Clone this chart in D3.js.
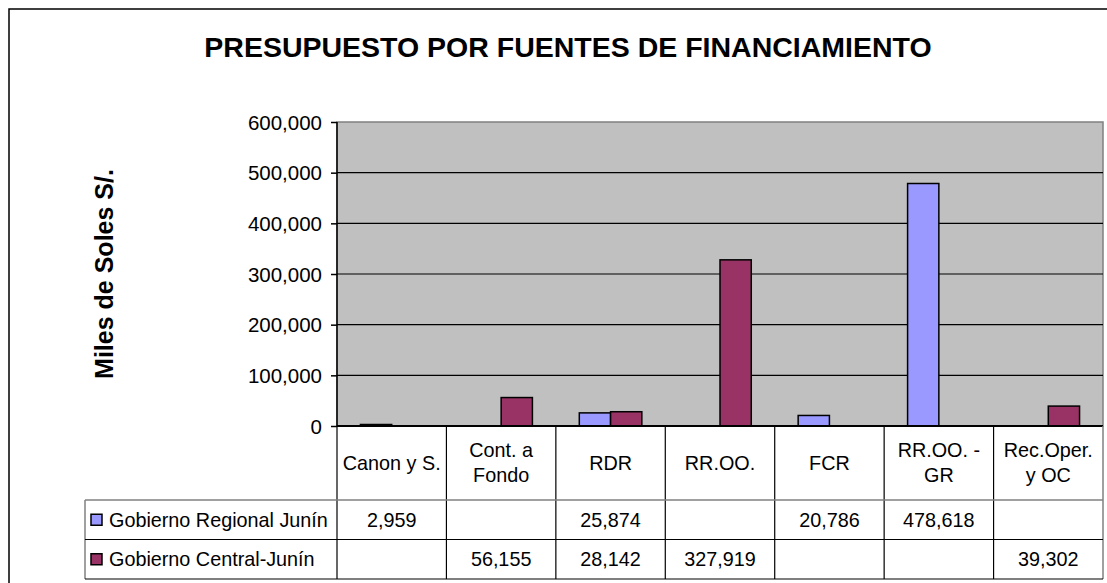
<!DOCTYPE html>
<html>
    <head>
        <title>Presupuesto por fuentes de financiamiento</title>
        <script src="https://d3js.org/d3.v7.min.js"></script>
        <style>
            body { margin: 0; background: #fff; }
            svg text { font-family: "Liberation Sans", Arial, sans-serif; fill: #000; }
            .axis text { font-size: 20.5px; }
            .cell { font-size: 19.8px; }
        </style>
    </head>
    <body>
        <svg width="1107" height="583"></svg>
        <script>
            // data
            var categories = ["Canon y S.", "Cont. a Fondo", "RDR", "RR.OO.", "FCR", "RR.OO. - GR", "Rec.Oper. y OC"];
            var headerLines = [["Canon y S."], ["Cont. a", "Fondo"], ["RDR"], ["RR.OO."], ["FCR"], ["RR.OO. -", "GR"], ["Rec.Oper.", "y OC"]];
            var seriesNames = ["Gobierno Regional Junín", "Gobierno Central-Junín"];
            var regional = [2959, null, 25874, null, 20786, 478618, null];
            var central = [null, 56155, 28142, 327919, null, null, 39302];
            var yTicks = [0, 100000, 200000, 300000, 400000, 500000, 600000];
            var colors = ["#9999ff", "#993366"];

            var svg = d3.select("svg");
            var fmt = d3.format(",");

            var plot = {left: 337, right: 1103, top: 122, bottom: 426};
            var headerBottom = 500, rowH = 39.5, legendLeft = 85;

            // outer chart border
            svg.append("rect")
                .attr("x", 9).attr("y", 9)
                .attr("width", 1200).attr("height", 700)
                .attr("fill", "none").attr("stroke", "#000").attr("stroke-width", 1.5);

            svg.append("text")
                .attr("x", 568).attr("y", 57)
                .attr("text-anchor", "middle")
                .style("font-size", "28.5px").style("font-weight", "bold")
                .text("PRESUPUESTO POR FUENTES DE FINANCIAMIENTO");

            svg.append("text")
                .attr("transform", "translate(113," + ((plot.top + plot.bottom) / 2) + ") rotate(-90)")
                .attr("text-anchor", "middle")
                .style("font-size", "25px").style("font-weight", "bold")
                .text("Miles de Soles S/.");

            var x = d3.scaleBand()
                .domain(categories)
                .range([plot.left, plot.right]);

            var y = d3.scaleLinear()
                .domain([0, 600000])
                .range([plot.bottom, plot.top]);

            svg.append("rect")
                .attr("x", plot.left).attr("y", plot.top)
                .attr("width", plot.right - plot.left).attr("height", plot.bottom - plot.top)
                .attr("fill", "#c0c0c0").attr("stroke", "#808080").attr("stroke-width", 1.5);

            // gridlines
            svg.append("g")
                .selectAll("line")
                .data(yTicks.slice(1, -1))
              .enter().append("line")
                .attr("x1", plot.left).attr("x2", plot.right)
                .attr("y1", d => y(d)).attr("y2", d => y(d))
                .attr("stroke", "#000").attr("stroke-width", 1.2);

            var yAxis = svg.append("g")
                .attr("class", "axis")
                .attr("transform", "translate(" + plot.left + ",0)")
                .call(d3.axisLeft(y).tickValues(yTicks).tickFormat(fmt).tickSize(6).tickPadding(9));
            yAxis.selectAll("line, path").attr("stroke", "#000").attr("stroke-width", 1.5);
            yAxis.select("path").attr("d", "M0," + plot.top + "V" + plot.bottom);
            yAxis.selectAll("text").attr("dy", "0.35em");

            // bars, Excel style gap width 150%
            var bw = x.bandwidth() / 3.5;
            var series = [regional, central];
            series.forEach(function(vals, s) {
                svg.append("g")
                    .selectAll("rect")
                    .data(categories.map((c, i) => ({c: c, v: vals[i]})).filter(d => d.v != null))
                  .enter().append("rect")
                    .attr("x", d => x(d.c) + bw * (0.75 + s))
                    .attr("y", d => y(d.v))
                    .attr("width", bw)
                    .attr("height", d => y(0) - y(d.v))
                    .attr("fill", colors[s])
                    .attr("stroke", "#000").attr("stroke-width", 1.5);
            });

            // zero line
            svg.append("line")
                .attr("x1", plot.left).attr("x2", plot.right)
                .attr("y1", y(0)).attr("y2", y(0))
                .attr("stroke", "#000").attr("stroke-width", 1.8);

            // data table
            var tableBottom = headerBottom + rowH * 2;
            var table = svg.append("g");

            table.selectAll(".vline")
                .data(categories)
              .enter().append("line")
                .attr("x1", d => x(d)).attr("x2", d => x(d))
                .attr("y1", plot.bottom).attr("y2", tableBottom)
                .attr("stroke", "#000").attr("stroke-width", 1.2);

            table.append("line")
                .attr("x1", plot.right).attr("x2", plot.right)
                .attr("y1", plot.bottom).attr("y2", tableBottom)
                .attr("stroke", "#808080").attr("stroke-width", 1.5);
            table.append("line")
                .attr("x1", legendLeft).attr("x2", legendLeft)
                .attr("y1", headerBottom).attr("y2", tableBottom)
                .attr("stroke", "#808080").attr("stroke-width", 1.5);
            table.append("line")
                .attr("x1", legendLeft).attr("x2", plot.right)
                .attr("y1", headerBottom).attr("y2", headerBottom)
                .attr("stroke", "#808080").attr("stroke-width", 1.5);
            [headerBottom + rowH, tableBottom].forEach(function(yy) {
                table.append("line")
                    .attr("x1", legendLeft).attr("x2", plot.right)
                    .attr("y1", yy).attr("y2", yy)
                    .attr("stroke", "#000").attr("stroke-width", 1.2);
            });

            // header labels
            var headerMid = (plot.bottom + headerBottom) / 2;
            headerLines.forEach(function(lines, i) {
                var cx = x(categories[i]) + x.bandwidth() / 2;
                var t = table.append("text")
                    .attr("class", "cell")
                    .attr("text-anchor", "middle")
                    .attr("y", headerMid - (lines.length - 1) * 12.5);
                lines.forEach(function(l, k) {
                    t.append("tspan")
                        .attr("x", cx)
                        .attr("dy", k === 0 ? "0.35em" : "25px")
                        .text(l);
                });
            });

            // legend rows + values
            series.forEach(function(vals, s) {
                var cy = headerBottom + rowH * s + rowH / 2;
                table.append("rect")
                    .attr("x", 91).attr("y", cy - 5.5)
                    .attr("width", 11).attr("height", 11)
                    .attr("fill", colors[s]).attr("stroke", "#000").attr("stroke-width", 1.5);
                table.append("text")
                    .attr("class", "cell")
                    .attr("x", 109).attr("y", cy).attr("dy", "0.35em")
                    .text(seriesNames[s]);
                table.selectAll(".val" + s)
                    .data(categories.map((c, i) => ({c: c, v: vals[i]})).filter(d => d.v != null))
                  .enter().append("text")
                    .attr("class", "cell")
                    .attr("text-anchor", "middle")
                    .attr("x", d => x(d.c) + x.bandwidth() / 2)
                    .attr("y", cy).attr("dy", "0.35em")
                    .text(d => fmt(d.v));
            });
        </script>
    </body>
</html>
